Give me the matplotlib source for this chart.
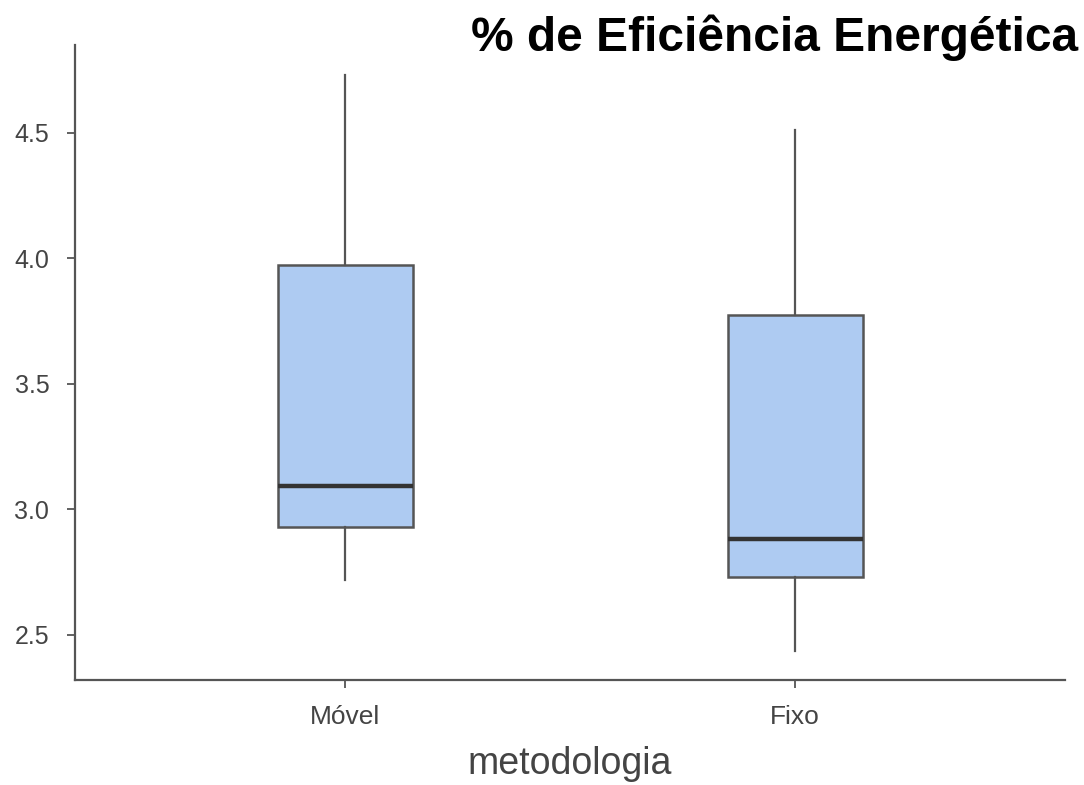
import matplotlib
matplotlib.use("Agg")
import matplotlib.pyplot as plt

categories = ["Móvel", "Fixo"]
whislo = [2.72, 2.435]
q1 = [2.928, 2.731]
med = [3.092, 2.880]
q3 = [3.972, 3.773]
whishi = [4.73, 4.512]
yticks = [2.5, 3.0, 3.5, 4.0, 4.5]

plt.rcParams['font.family'] = ['Liberation Sans', 'DejaVu Sans']

fig = plt.figure(figsize=(10.84, 7.85), dpi=100)
ax = fig.add_axes([75/1084, 1-680/785, 990/1084, 635/785])

stats = []
for i, c in enumerate(categories):
    stats.append(dict(label=c, whislo=whislo[i], q1=q1[i], med=med[i],
                      q3=q3[i], whishi=whishi[i], fliers=[]))

ax.bxp(stats, positions=[1, 2], widths=0.3, patch_artist=True,
       showcaps=False,
       boxprops=dict(facecolor="#AECBF2", edgecolor="#555555", linewidth=1.8),
       whiskerprops=dict(color="#555555", linewidth=1.6),
       medianprops=dict(color="#333333", linewidth=3.2))

ax.set_xlim(0.40, 2.60)
ax.set_ylim(2.32, 4.85)
ax.set_yticks(yticks)
ax.set_yticklabels([f"{v:.1f}" for v in yticks])
ax.set_xticks([1, 2])
ax.set_xticklabels(categories)

for s in ["top", "right"]:
    ax.spines[s].set_visible(False)
for s in ["left", "bottom"]:
    ax.spines[s].set_color("#555555")
    ax.spines[s].set_linewidth(1.6)

ax.tick_params(axis="both", colors="#555555", labelcolor="#444444",
               labelsize=18, length=6, width=1.3)
ax.tick_params(axis="y", pad=12.5)
ax.tick_params(axis="x", pad=12)
for lab in ax.get_xticklabels():
    lab.set_fontsize(19)

ax.set_xlabel("metodologia", fontsize=27, color="#444444", labelpad=12)

fig.text(1078/1084, 1-38/785, "% de Eficiência Energética", ha="right",
         va="center", fontsize=34.5, fontweight="bold", color="black")

fig.savefig("out.png", dpi=100, facecolor="white")
